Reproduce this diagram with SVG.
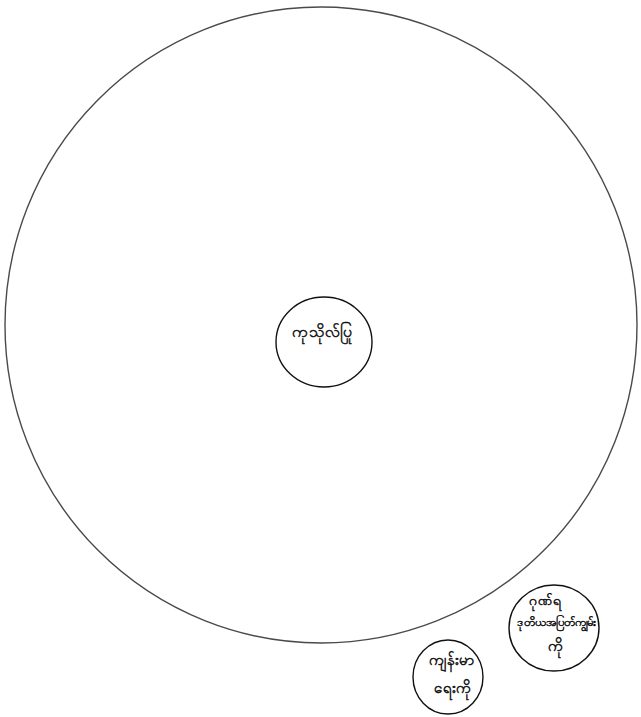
<svg xmlns="http://www.w3.org/2000/svg" width="641" height="717" viewBox="0 0 641 717">
<style>
.big{fill:none;stroke:#4a4a4a;stroke-width:1.4}
.node{fill:none;stroke:#111;stroke-width:1.4}
.lbl{font-family:"Noto Sans","DejaVu Sans",sans-serif;fill:#111;stroke:#111;stroke-width:0.5;text-anchor:middle}
</style>
<rect width="641" height="717" fill="#fff"/>
<g id="outer">
<ellipse class="big" cx="321" cy="325" rx="316" ry="318"/>
</g>
<g id="center-node">
<ellipse class="node" cx="324" cy="342" rx="48" ry="45"/>
<text class="lbl" x="322" y="337" font-size="16">ကုသိုလ်ပြု</text>
</g>
<g id="node-health">
<ellipse class="node" cx="448" cy="677" rx="35" ry="37"/>
<text class="lbl" x="451" y="665" font-size="15">ကျန်းမာ</text>
<text class="lbl" x="452" y="693" font-size="15">ရေးကို</text>
</g>
<g id="node-right">
<ellipse class="node" cx="554" cy="628" rx="45" ry="43"/>
<text class="lbl" x="545" y="605" font-size="14">ဂုဏ်ရ</text>
<text class="lbl" x="557" y="626" font-size="11.5">ဒုတိယအပြတ်ကျွမ်း</text>
<text class="lbl" x="555" y="651" font-size="15">ကို</text>
</g>
<g id="connectors"></g>
</svg>
